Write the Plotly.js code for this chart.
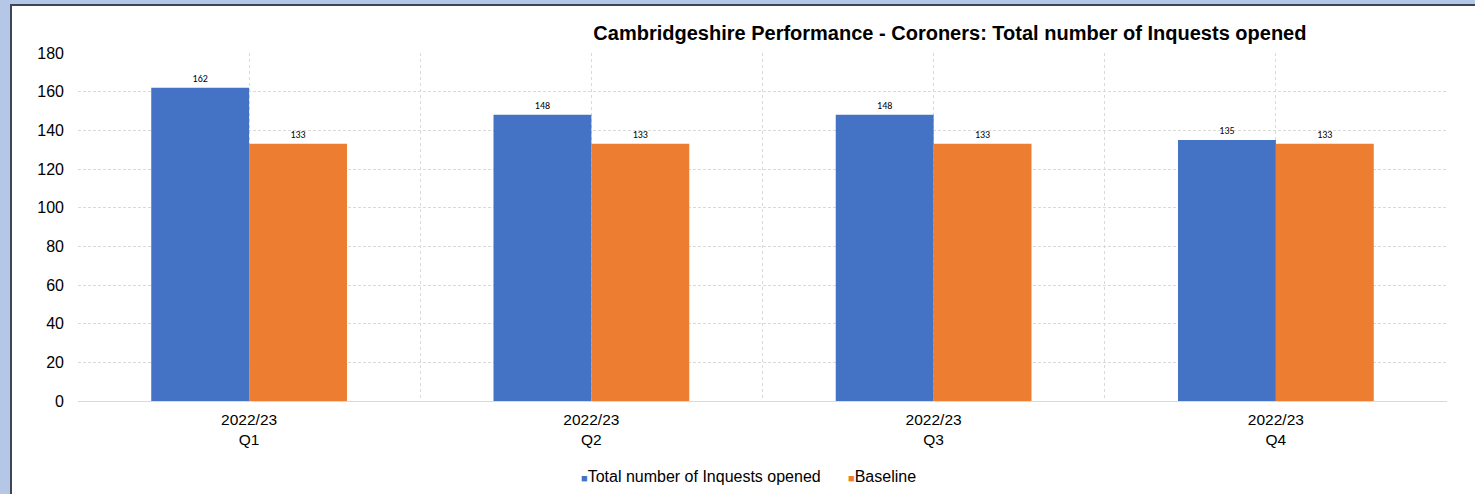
<!DOCTYPE html>
<html>
<head>
<meta charset="utf-8">
<script src="https://cdn.plot.ly/plotly-3.0.1.min.js"></script>
<style>
  html, body { margin: 0; padding: 0; width: 1475px; height: 494px; overflow: hidden; background: #b4c7e7; }
  #frame { position: absolute; left: 10px; top: 4px; right: 0; bottom: 0; background: #ffffff;
           border-left: 2px solid #3f4458; border-top: 2px solid #3f4458; }
  #chart { position: absolute; left: 0; top: 0; width: 1475px; height: 494px; }
</style>
</head>
<body>
<div id="frame"></div>
<div id="chart"></div>
<script>
// Quarterly inquests opened against the baseline
const quarters = ["2022/23<br>Q1", "2022/23<br>Q2", "2022/23<br>Q3", "2022/23<br>Q4"];
const inquestsOpened = [162, 148, 148, 135];
const baseline = [133, 133, 133, 133];
const yTicks = [0, 20, 40, 60, 80, 100, 120, 140, 160, 180];
const seriesNames = ["Total number of Inquests opened", "Baseline"];
const seriesColors = ["#4472c4", "#ed7d31"];

const xPos = quarters.map((_, i) => i);
// grid at every category centre and every boundary between categories
const gridVals = [];
const gridText = [];
for (let i = 0; i < quarters.length; i++) {
  gridVals.push(i - 0.5, i);
  gridText.push("", quarters[i]);
}
gridVals.push(quarters.length - 0.5);
gridText.push("");

const FONT = "Liberation Sans, Arial, sans-serif";
const labelFont = { family: "Carlito, Liberation Sans, Arial, sans-serif", size: 10, color: "#000000" };

const traces = [inquestsOpened, baseline].map((vals, k) => ({
  type: "bar", name: seriesNames[k],
  x: xPos, y: vals,
  marker: { color: seriesColors[k] },
  text: vals.map(String), textposition: "outside",
  textfont: labelFont, cliponaxis: false, hoverinfo: "skip"
}));

// compact legend: small square followed closely by the series name
const legendX = [579, 846];
const annotations = seriesNames.map((name, k) => ({
  xref: "paper", yref: "paper",
  x: (legendX[k] - 78) / 1369, y: (401 - 476) / 348,
  xanchor: "left", yanchor: "middle", showarrow: false,
  text: "<span style=\"color:" + seriesColors[k] + ";font-size:11px\">■</span>" + name,
  font: { family: FONT, size: 16, color: "#000000" }
}));

const gridCol = "#d9d9d9";

const layout = {
  width: 1475, height: 494,
  paper_bgcolor: "rgba(0,0,0,0)", plot_bgcolor: "rgba(0,0,0,0)",
  margin: { l: 78, r: 28, t: 53, b: 93 },
  font: { family: FONT, size: 15.5, color: "#000000" },
  barmode: "group", bargap: 0.428, bargroupgap: 0,
  title: {
    text: "<b>Cambridgeshire Performance - Coroners: Total number of Inquests opened</b>",
    font: { family: FONT, size: 20, color: "#000000" },
    xref: "container", yref: "container", x: 0.644, xanchor: "center", y: 0.933, yanchor: "middle"
  },
  xaxis: {
    range: [-0.5, quarters.length - 0.5],
    tickmode: "array", tickvals: gridVals, ticktext: gridText,
    showgrid: true, gridcolor: gridCol, griddash: "3px,3px", gridwidth: 1,
    zeroline: false, showline: true, linecolor: gridCol, linewidth: 1,
    ticks: "", ticklabelstandoff: 4, fixedrange: true
  },
  yaxis: {
    range: [0, 180], tickmode: "array", tickvals: yTicks,
    showgrid: true, gridcolor: gridCol, griddash: "3px,2px", gridwidth: 1,
    zeroline: false, showline: false, ticks: "", ticklabelstandoff: 13, fixedrange: true,
    tickfont: { size: 16 }
  },
  showlegend: false,
  annotations: annotations
};

Plotly.newPlot("chart", traces, layout, { displayModeBar: false, staticPlot: true });
</script>
</body>
</html>
